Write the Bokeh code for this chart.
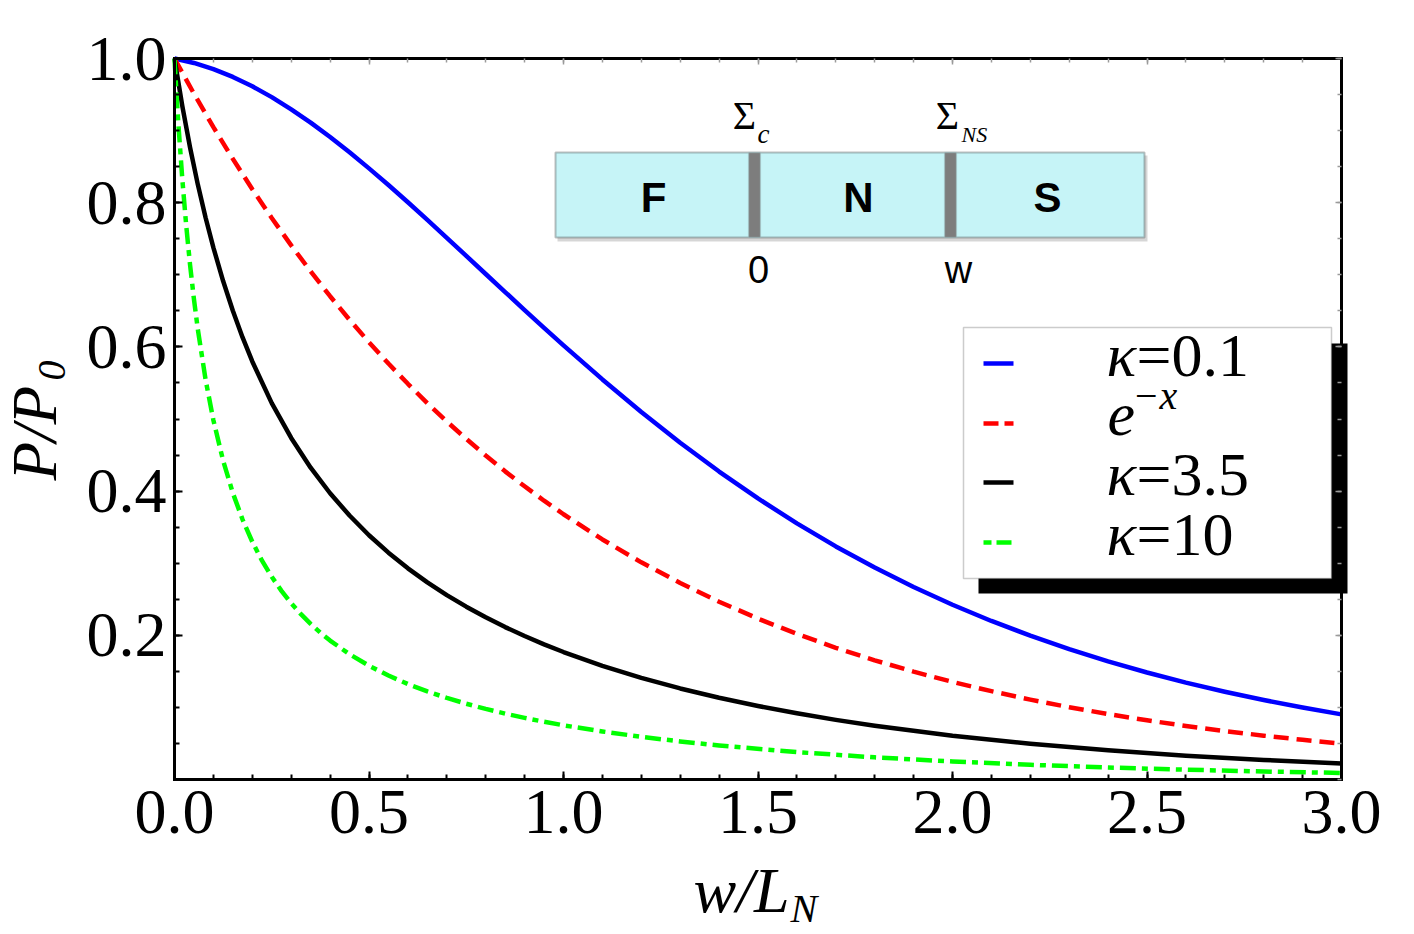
import math

from bokeh.embed import file_html
from bokeh.models import (BoxAnnotation, FixedTicker, Label, LinearAxis,
                          NumeralTickFormatter, Range1d)
from bokeh.plotting import figure
from bokeh.resources import INLINE

# ---- data: normalized polarization P/P0 versus w/L_N ----
BLUE_X = [0.0, 0.05, 0.1, 0.15, 0.2, 0.25, 0.3, 0.35, 0.4, 0.45, 0.5, 0.55, 0.6, 0.65,
          0.7, 0.75, 0.8, 0.85, 0.9, 0.95, 1.0, 1.1, 1.2, 1.3, 1.4, 1.5, 1.6, 1.7, 1.8,
          1.9, 2.0, 2.1, 2.2, 2.3, 2.4, 2.5, 2.6, 2.7, 2.8, 2.9, 3.0]
BLUE_Y = [1.0, 0.9938, 0.9852, 0.9744, 0.9614, 0.9464, 0.9295, 0.9111, 0.8911, 0.8699,
          0.8476, 0.8245, 0.8006, 0.7761, 0.7513, 0.7263, 0.7011, 0.6761, 0.6511, 0.6265,
          0.6022, 0.5549, 0.5098, 0.4671, 0.4271, 0.3898, 0.3552, 0.3233, 0.2940, 0.2671,
          0.2424, 0.2199, 0.1995, 0.1808, 0.1638, 0.1484, 0.1344, 0.1217, 0.1102, 0.0998,
          0.0903]

RED_X = BLUE_X
RED_Y = [1.0, 0.9512, 0.9048, 0.8607, 0.8187, 0.7788, 0.7408, 0.7047, 0.6703, 0.6376,
         0.6065, 0.5769, 0.5488, 0.5220, 0.4966, 0.4724, 0.4493, 0.4274, 0.4066, 0.3867,
         0.3679, 0.3329, 0.3012, 0.2725, 0.2466, 0.2231, 0.2019, 0.1827, 0.1653, 0.1496,
         0.1353, 0.1225, 0.1108, 0.1003, 0.0907, 0.0821, 0.0743, 0.0672, 0.0608, 0.0550,
         0.0498]

BLACK_X = [0.0, 0.02, 0.04, 0.06, 0.08, 0.1, 0.125, 0.15, 0.175, 0.2, 0.25, 0.3, 0.35,
           0.4, 0.45, 0.5, 0.55, 0.6, 0.65, 0.7, 0.75, 0.8, 0.85, 0.9, 0.95, 1.0, 1.1,
           1.2, 1.3, 1.4, 1.5, 1.6, 1.7, 1.8, 2.0, 2.2, 2.4, 2.6, 2.8, 3.0]
BLACK_Y = [1.0, 0.9344, 0.8766, 0.8251, 0.7791, 0.7377, 0.6913, 0.6501, 0.6131, 0.5798,
           0.5220, 0.4737, 0.4325, 0.3970, 0.3661, 0.3388, 0.3146, 0.2929, 0.2734, 0.2557,
           0.2397, 0.2249, 0.2114, 0.1990, 0.1875, 0.1768, 0.1577, 0.1410, 0.1263, 0.1134,
           0.1020, 0.0918, 0.0827, 0.0746, 0.0608, 0.0496, 0.0405, 0.0331, 0.0271, 0.0222]

GREEN_X = [0.0, 0.005, 0.01, 0.02, 0.03, 0.04, 0.05, 0.06, 0.08, 0.1, 0.125, 0.15,
           0.175, 0.2, 0.225, 0.25, 0.275, 0.3, 0.325, 0.35, 0.375, 0.4, 0.45, 0.5, 0.55,
           0.6, 0.65, 0.7, 0.75, 0.8, 0.85, 0.9, 0.95, 1.0, 1.1, 1.2, 1.3, 1.4, 1.6, 1.8,
           2.0, 2.2, 2.4, 2.6, 2.8, 3.0]
GREEN_Y = [1.0, 0.9524, 0.9091, 0.8332, 0.7689, 0.7138, 0.6660, 0.6242, 0.5543, 0.4983,
           0.4423, 0.3973, 0.3605, 0.3297, 0.3035, 0.2811, 0.2616, 0.2445, 0.2293, 0.2158,
           0.2037, 0.1927, 0.1737, 0.1578, 0.1442, 0.1324, 0.1222, 0.1131, 0.1051, 0.0979,
           0.0914, 0.0855, 0.0801, 0.0752, 0.0666, 0.0592, 0.0528, 0.0472, 0.0380, 0.0307,
           0.0250, 0.0204, 0.0166, 0.0136, 0.0111, 0.0091]

X_TICKS = [0.0, 0.5, 1.0, 1.5, 2.0, 2.5, 3.0]
X_MINOR = [round(0.1 * i, 1) for i in range(31)]
Y_TICKS = [0.2, 0.4, 0.6, 0.8, 1.0]
Y_MINOR = [round(0.05 * i, 2) for i in range(21)]

LEGEND_LABELS = ["0.1", None, "3.5", "10"]
LAYERS = ["F", "N", "S"]

# ---- canvas and plotting-box geometry (pixels) ----
W, H = 1414, 934
FL, FR, FT, FB = 174, 1341, 58, 779
XMIN, XMAX, YMIN, YMAX = 0.0, 3.0, 0.0, 1.0


def dx(px):
    return XMIN + (px - FL) / (FR - FL) * (XMAX - XMIN)


def dy(py):
    return YMIN + (FB - py) / (FB - FT) * (YMAX - YMIN)


SERIF = "Liberation Serif"
SANS = "Liberation Sans"

# The frame spans the whole canvas; the axes are pinned to the data box edges
# so that titles, legend and inset can sit anywhere without being clipped.
p = figure(width=W, height=H, x_range=Range1d(dx(0), dx(W)), y_range=Range1d(dy(H), dy(0)),
           output_backend="svg", toolbar_location=None,
           min_border=0, min_border_left=0, min_border_right=0,
           min_border_top=0, min_border_bottom=0)
p.title.visible = False
p.xgrid.visible = False
p.ygrid.visible = False
p.outline_line_color = None
p.background_fill_color = "white"
p.border_fill_color = "white"

xax = p.xaxis[0]
yax = p.yaxis[0]
xax.fixed_location = YMIN
xax.bounds = (XMIN, XMAX)
yax.fixed_location = XMIN
yax.bounds = (YMIN, YMAX)

for ax in (xax, yax):
    ax.axis_line_width = 3
    ax.axis_line_color = "black"
    ax.axis_line_cap = "square"
    ax.major_tick_in = 8
    ax.major_tick_out = 0
    ax.minor_tick_in = 5
    ax.minor_tick_out = 0
    ax.major_tick_line_width = 2
    ax.minor_tick_line_width = 2
    ax.major_tick_line_color = "black"
    ax.minor_tick_line_color = "black"
    ax.major_label_text_font = SERIF
    ax.major_label_text_font_size = "64px"
    ax.major_label_text_color = "black"
    ax.formatter = NumeralTickFormatter(format="0.0")

xax.ticker = FixedTicker(ticks=X_TICKS, minor_ticks=X_MINOR)
yax.ticker = FixedTicker(ticks=Y_TICKS, minor_ticks=Y_MINOR)
xax.major_label_standoff = 11
yax.major_label_standoff = 8

# mirrored edges of the box: thin grey ticks, no labels
top = LinearAxis(ticker=FixedTicker(ticks=X_TICKS, minor_ticks=X_MINOR),
                 fixed_location=YMAX, bounds=(XMIN, XMAX))
right = LinearAxis(ticker=FixedTicker(ticks=Y_TICKS, minor_ticks=Y_MINOR),
                   fixed_location=XMAX, bounds=(YMIN, YMAX))
for ax in (top, right):
    ax.axis_line_width = 3
    ax.axis_line_color = "black"
    ax.axis_line_cap = "square"
    ax.major_tick_in = 6
    ax.major_tick_out = 0
    ax.minor_tick_in = 4
    ax.minor_tick_out = 0
    ax.major_tick_line_color = "#9a9a9a"
    ax.minor_tick_line_color = "#9a9a9a"
    ax.major_tick_line_width = 1.5
    ax.minor_tick_line_width = 1.5
    ax.major_label_text_color = None
    ax.major_label_text_font_size = "1px"
p.add_layout(top, "above")
p.add_layout(right, "right")

# ---- curves ----
LW = 4.5
p.line(BLUE_X, BLUE_Y, line_color="#0000ff", line_width=LW, line_join="round")
p.line(RED_X, RED_Y, line_color="#ff0000", line_width=LW, line_dash="15 8",
       line_join="round")
p.line(BLACK_X, BLACK_Y, line_color="black", line_width=LW, line_join="round")
p.line(GREEN_X, GREEN_Y, line_color="#00ff00", line_width=LW, line_dash="16 6 6 6",
       line_join="round")

# text boxes sit slightly low relative to the requested baseline; lift them
BASE_LIFT = 0.36


def label(text, px, py, size, font=SERIF, style="normal", align="left", angle=0.0,
          color="black"):
    if angle:
        px -= BASE_LIFT * size
    else:
        py -= BASE_LIFT * size
    p.add_layout(Label(x=dx(px), y=dy(py), text=text, text_font=font,
                       text_font_size=f"{size}px", text_font_style=style,
                       text_align=align, text_baseline="alphabetic", angle=angle,
                       text_color=color))


def box(l, t, r, b, fill, line=None, lw=1.0, alpha=1.0):
    p.add_layout(BoxAnnotation(left=dx(l), right=dx(r), top=dy(t), bottom=dy(b),
                               fill_color=fill, fill_alpha=alpha,
                               line_color=line, line_width=lw, level="underlay"))


# ---- axis titles ----
label("P/P", 57, 480, 63, style="italic", angle=math.pi / 2)
label("0", 66, 380, 40, style="italic", angle=math.pi / 2)
label("w/L", 693, 913, 64, style="italic")
label("N", 790, 922, 40, style="italic")

# ---- inset: F | N | S junction sketch ----
box(557, 155, 1147, 241, "#8a8a8a", alpha=0.35)
box(555, 152, 1144, 237, "#c6f4f7", line="#2a2a2a", lw=2)
for cx in (754, 950):
    box(cx - 6, 152, cx + 6, 237, "#7d7d7d", line="#a9d3d6", lw=1.5)
for name, cx in zip(LAYERS, (653, 858, 1047)):
    label(name, cx, 212, 42, font=SANS, style="bold", align="center")
label("0", 758, 283, 38, font=SANS, align="center")
label("w", 958, 283, 38, font=SANS, align="center")
label("\u03a3", 744, 129, 40, align="center")
label("c", 757, 143, 27, style="italic")
label("\u03a3", 947, 129, 40, align="center")
label("NS", 961, 142, 22, style="italic")

# ---- legend with drop shadow ----
box(978, 343, 1347, 593, "black")
box(963, 327, 1331, 578, "white", line="#555555", lw=1.5)
rows = [363, 423, 482, 542]
styles = [("#0000ff", "solid"), ("#ff0000", "15 6"), ("black", "solid"),
          ("#00ff00", "8 5 15 5")]
for ry, (col, dash) in zip(rows, styles):
    p.line([dx(983), dx(1013)], [dy(ry), dy(ry)], line_color=col, line_width=LW,
           line_dash=dash)
for ry, txt in zip(rows, LEGEND_LABELS):
    base = ry + 14
    if txt is None:
        label("e", 1107, base, 62, style="italic")
        label("\u2212x", 1132, 409, 40, style="italic")
    else:
        label("\u03ba", 1106, base, 62, style="italic")
        label("=" + txt, 1136, base, 62)

open("out.html", "w").write(file_html(p, INLINE))
